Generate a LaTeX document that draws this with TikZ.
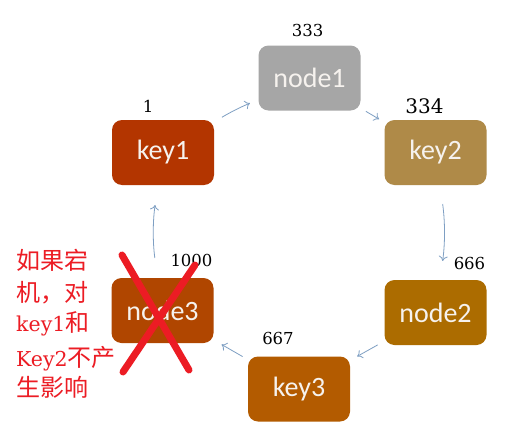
\documentclass[tikz,border=0pt]{standalone}
\usepackage{fontspec}
\setmainfont{DejaVu Serif}
\newfontfamily\boxfont{Carlito}
\newfontfamily\cjkfont{Noto Sans CJK SC}
\newfontfamily\latinserif{DejaVu Serif}
\usetikzlibrary{arrows.meta}
\definecolor{ckeyA}{RGB}{179,53,0}
\definecolor{cnodeA}{RGB}{166,166,166}
\definecolor{ckeyB}{RGB}{175,138,72}
\definecolor{cnodeB}{RGB}{172,108,0}
\definecolor{ckeyC}{RGB}{179,91,0}
\definecolor{cnodeC}{RGB}{176,70,0}
\definecolor{boxtext}{RGB}{246,242,238}
\definecolor{arrowc}{RGB}{126,159,195}
\definecolor{redc}{RGB}{236,28,36}
\begin{document}
\begin{tikzpicture}[x=1pt,y=-1pt,
  box/.style={rounded corners=10pt, minimum width=102pt, minimum height=65pt,
    inner sep=0pt, text=boxtext, font=\boxfont\fontsize{28}{30}\selectfont},
  num/.style={inner sep=0pt, font=\fontsize{16.5}{18}\selectfont},
  conn/.style={draw=arrowc, line width=0.8pt, -{To[length=5pt,width=9pt]}},
  redtxt/.style={text=redc, anchor=base west, inner sep=0pt,
    font=\cjkfont\fontsize{24}{26}\selectfont},
  redx/.style={draw=redc, line width=7pt, line cap=round}
]
\fill[white] (0,0) rectangle (523,434);
\useasboundingbox (0,0) rectangle (523,434);

% boxes
\node[box, fill=ckeyA]  (key1)  at (163,152.5) {key1};
\node[box, fill=cnodeA] (node1) at (309.5,78)  {node1};
\node[box, fill=ckeyB]  (key2)  at (435.5,152.5) {key2};
\node[box, fill=cnodeB] (node2) at (435.5,312.5) {node2};
\node[box, fill=ckeyC]  (key3)  at (299,389) {key3};
\node[box, fill=cnodeC] (node3) at (162.5,310.5) {node3};

% numbers
\node[num] (n333)  at (307.7,30.5) {333};
\node[num] (n1)    at (148,106) {1};
\node[num, font=\fontsize{20}{22}\selectfont] (n334) at (424.5,106) {334};
\node[num] (n666)  at (469.5,263.5) {666};
\node[num] (n667)  at (278,338) {667};
\node[num] (n1000) at (191.5,260) {1000};

% connectors
\draw[conn, shorten <=9pt, shorten >=9pt] (key1) to[bend left=4] (node1);
\draw[conn, shorten <=6pt, shorten >=6pt] (node1) -- (key2);
\draw[conn, shorten <=19pt, shorten >=19pt] ([xshift=4.5pt]key2.south) to[bend left=8] ([xshift=4.5pt]node2.north);
\draw[conn, shorten <=7.5pt, shorten >=8pt] (node2) -- (key3);
\draw[conn, shorten <=6pt, shorten >=9pt] (key3) -- (node3);
\draw[conn, shorten <=20pt, shorten >=20pt] ([xshift=-5pt]node3.north) to[bend left=8] ([xshift=-5pt]key1.south);

% red cross
\draw[redx] (122,255) -- (189,370);
\draw[redx] (195,265) -- (123,372);

% red note
\node[redtxt] (t1) at (16,269) {如果宕};
\node[redtxt] (t2) at (16,301) {机，对};
\node[redtxt] (t3) at (16,331) {{\latinserif\fontsize{20.5}{24}\selectfont key1}和};
\node[redtxt] (t4) at (16,366) {{\latinserif\fontsize{20.5}{24}\selectfont Key2}不产};
\node[redtxt] (t5) at (16,396) {生影响};
\end{tikzpicture}
\end{document}
